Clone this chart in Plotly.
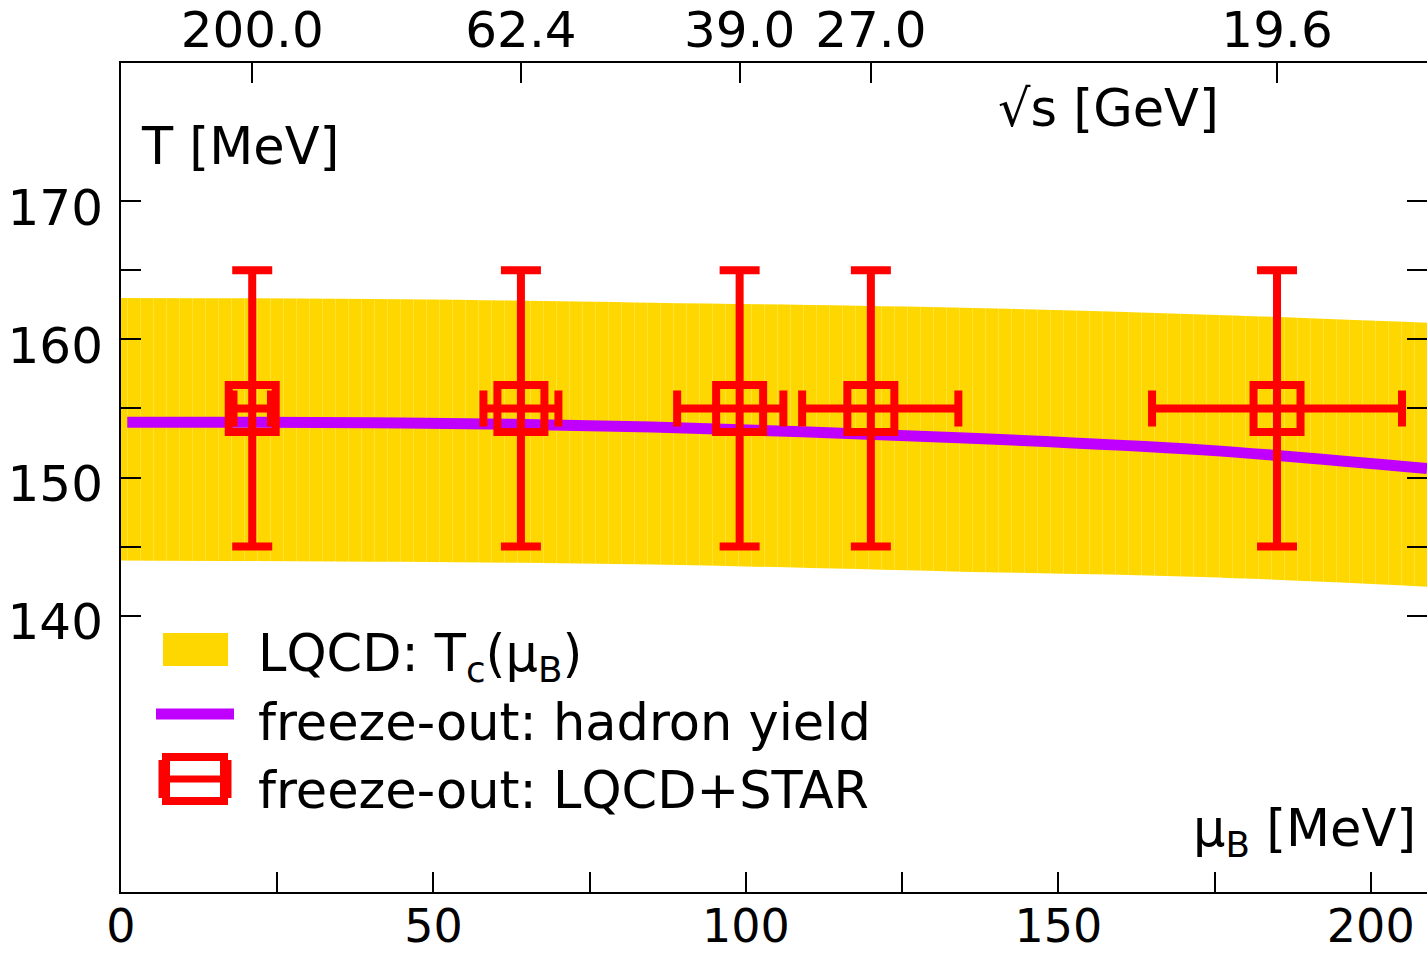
import plotly.graph_objects as go

# ---------------- data ----------------
band_mu = [0, 45, 85, 133, 173, 209]
band_upper = [163.0, 162.9, 162.65, 162.3, 161.8, 161.2]
band_lower = [144.0, 143.9, 143.7, 143.2, 142.8, 142.1]

line_mu = [1, 45, 85, 133, 173, 209]
line_T = [154.0, 153.95, 153.65, 152.9, 152.0, 150.65]

pts_mu = [21, 64, 99, 120, 185]
pts_T = [155, 155, 155, 155, 155]
pts_T_err = [10, 10, 10, 10, 10]
pts_mu_err_plus = [3, 6, 7, 14, 20]
pts_mu_err_minus = [3, 6, 10, 11, 20]

sqrt_s_labels = ["200.0", "62.4", "39.0", "27.0", "19.6"]

x_ticks = [0, 50, 100, 150, 200]
x_ticktext = ["0", "50", "100", "150", "200"]
x_minor_ticks = [25, 75, 125, 175]
y_ticks = [140, 150, 160, 170]
y_ticktext = ["140", "150", "160", "170"]
y_minor_ticks = [145, 155, 165]
y_right_ticks = [140, 145, 150, 155, 160, 165, 170]

# ---------------- layout constants ----------------
W, H = 1427, 954
L, R, T, B = 121, 0, 63, 62
PW, PH = W - L - R, H - T - B
FONT = "DejaVu Sans, Liberation Sans, Arial, sans-serif"
GOLD = "#FFD700"
PURPLE = "#BF00FF"
RED = "#FF0000"
FS_TICK = 50
FS_BOTTOM = 46
FS_TEXT = 51


def px(x):
    return (x - L) / PW


def py(y):
    return (H - B - y) / PH


fig = go.Figure()

# band
fig.add_trace(go.Scatter(x=band_mu, y=band_lower, mode="lines", line=dict(width=0, shape="spline"),
                         showlegend=False, hoverinfo="skip"))
fig.add_trace(go.Scatter(x=band_mu, y=band_upper, mode="lines", line=dict(width=0, shape="spline"),
                         fill="tonexty", fillcolor=GOLD,
                         fillpattern=dict(shape="|", size=13, solidity=0.06, fgcolor="#FFEC8C", bgcolor=GOLD),
                         showlegend=False, hoverinfo="skip"))

# freeze-out line
fig.add_trace(go.Scatter(x=line_mu, y=line_T, mode="lines", line=dict(color=PURPLE, width=11, shape="spline"),
                         showlegend=False))

# points with errors
fig.add_trace(go.Scatter(
    x=pts_mu, y=pts_T, mode="markers",
    marker=dict(symbol="square-open", size=47, color=RED, line=dict(width=8, color=RED)),
    error_y=dict(type="data", array=pts_T_err, thickness=8, width=20, color=RED),
    error_x=dict(type="data", symmetric=False, array=pts_mu_err_plus, arrayminus=pts_mu_err_minus,
                 thickness=8, width=18, color=RED),
    showlegend=False))

# invisible traces to anchor the top and right axes
fig.add_trace(go.Scatter(x=pts_mu, y=pts_T, xaxis="x2", mode="markers", marker=dict(opacity=0),
                         showlegend=False, hoverinfo="skip"))
fig.add_trace(go.Scatter(x=pts_mu, y=pts_T, yaxis="y2", mode="markers", marker=dict(opacity=0),
                         showlegend=False, hoverinfo="skip"))

tick_style = dict(ticks="inside", ticklen=20, tickwidth=2, tickcolor="black")
axis_common = dict(linecolor="black", linewidth=2, showgrid=False, zeroline=False, automargin=False,
                   **tick_style)

fig.update_layout(
    width=W, height=H,
    margin=dict(l=L, r=R, t=T, b=B, pad=0, autoexpand=False),
    paper_bgcolor="white", plot_bgcolor="white",
    showlegend=False,
    xaxis=dict(range=[0, 209], tickmode="array", tickvals=x_ticks, ticktext=x_ticktext,
               minor=dict(tickmode="array", tickvals=x_minor_ticks, showgrid=False, **tick_style),
               tickfont=dict(family=FONT, size=FS_BOTTOM, color="black"),
               showline=True, ticklabelstandoff=-7, **axis_common),
    xaxis2=dict(range=[0, 209], overlaying="x", side="top", anchor="y", tickmode="array",
                tickvals=pts_mu, ticktext=sqrt_s_labels,
                tickfont=dict(family=FONT, size=FS_TICK, color="black"),
                showline=True, ticklabelstandoff=-6, **axis_common),
    yaxis=dict(range=[120, 180], tickmode="array", tickvals=y_ticks, ticktext=y_ticktext,
               minor=dict(tickmode="array", tickvals=y_minor_ticks, showgrid=False, **tick_style),
               tickfont=dict(family=FONT, size=FS_TICK, color="black"),
               showline=True, ticklabelstandoff=6, ticklabelshift=6, **axis_common),
    yaxis2=dict(range=[120, 180], overlaying="y", side="right", anchor="x", tickmode="array",
                tickvals=y_right_ticks, showticklabels=False, showline=False, **axis_common),
)

text_font = dict(family=FONT, size=FS_TEXT, color="black")
annotations = [
    dict(text="T [MeV]", x=px(139), y=py(146), xanchor="left", yanchor="middle"),
    dict(text="√s [GeV]", x=px(996), y=py(108), xanchor="left", yanchor="middle"),
    dict(text="μ<sub>B</sub> [MeV]", x=px(1418), y=py(832), xanchor="right", yanchor="middle"),
    dict(text="LQCD: T<sub>c</sub>(μ<sub>B</sub>)", x=px(256), y=py(657), xanchor="left", yanchor="middle"),
    dict(text="freeze-out: hadron yield", x=px(256), y=py(722), xanchor="left", yanchor="middle"),
    dict(text="freeze-out: LQCD+STAR", x=px(256), y=py(790), xanchor="left", yanchor="middle"),
]
for a in annotations:
    fig.add_annotation(xref="paper", yref="paper", showarrow=False, font=text_font, **a)

# legend swatches
fig.add_shape(type="rect", xref="paper", yref="paper", x0=px(163), x1=px(228), y0=py(666), y1=py(633),
              fillcolor=GOLD, line=dict(width=0))
fig.add_shape(type="line", xref="paper", yref="paper", x0=px(156), x1=px(234), y0=py(714), y1=py(714),
              line=dict(color=PURPLE, width=11))
fig.add_shape(type="rect", xref="paper", yref="paper", x0=px(166), x1=px(224), y0=py(801), y1=py(757),
              line=dict(color=RED, width=8))
fig.add_shape(type="line", xref="paper", yref="paper", x0=px(166), x1=px(224), y0=py(779), y1=py(779),
              line=dict(color=RED, width=7))
for xx in (163, 227):
    fig.add_shape(type="line", xref="paper", yref="paper", x0=px(xx), x1=px(xx), y0=py(760), y1=py(798),
                  line=dict(color=RED, width=9))

fig.write_html("out.html")
